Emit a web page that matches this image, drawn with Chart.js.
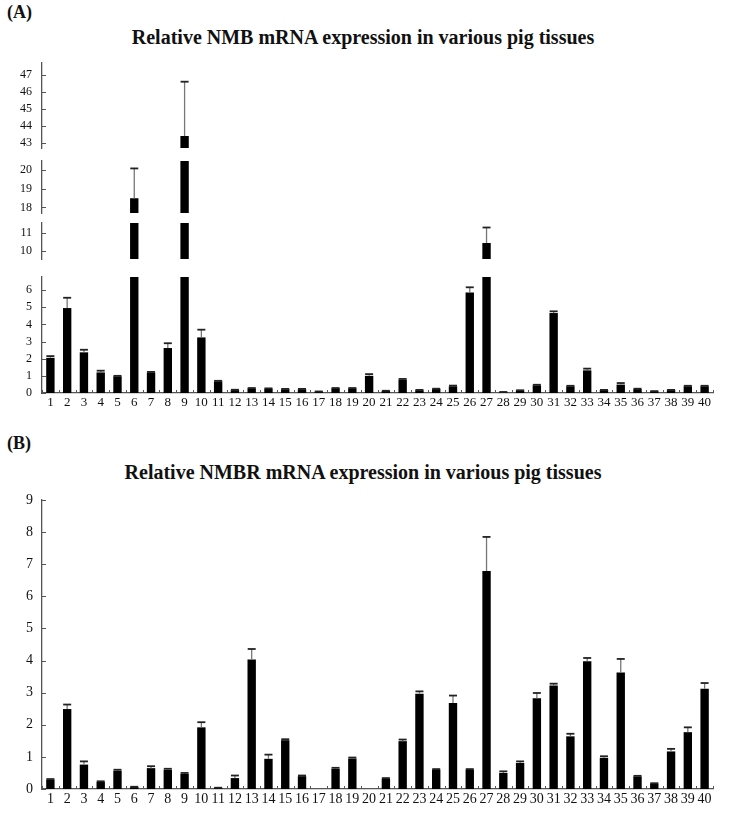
<!DOCTYPE html>
<html>
<head>
<meta charset="utf-8">
<script src="https://cdn.jsdelivr.net/npm/chart.js@4.4.0/dist/chart.umd.min.js"></script>
<style>
    html, body { margin: 0; padding: 0; background: #fff; }
    #page { position: relative; width: 736px; height: 813px; overflow: hidden; font-family: 'Liberation Serif', 'Times New Roman', serif; color: #111; }
    #page canvas { position: absolute; left: 0; }
    .panel-tag { position: absolute; left: 7px; font-weight: bold; font-size: 18px; line-height: 18px; }
    .panel-title { position: absolute; left: 0; width: 726px; text-align: center; font-weight: bold; font-size: 20px; line-height: 20px; white-space: nowrap; }
</style>
</head>
<body>
<div id="page">
    <div class="panel-tag" style="top:3px">(A)</div>
    <div class="panel-title" style="top:27px">Relative NMB mRNA expression in various pig tissues</div>
    <div class="panel-tag" style="top:434px">(B)</div>
    <div class="panel-title" style="top:462px">Relative NMBR mRNA expression in various pig tissues</div>
</div>
<script>
// tissue numbers on the x axis
const tissues = ['1', '2', '3', '4', '5', '6', '7', '8', '9', '10',
    '11', '12', '13', '14', '15', '16', '17', '18', '19', '20',
    '21', '22', '23', '24', '25', '26', '27', '28', '29', '30',
    '31', '32', '33', '34', '35', '36', '37', '38', '39', '40'];

// (A) NMB relative expression, mean and error (SD)
const nmbMean = [2.05, 4.95, 2.37, 1.2, 0.97, 18.5, 1.2, 2.62, 43.4, 3.24,
    0.68, 0.17, 0.27, 0.25, 0.22, 0.22, 0.08, 0.27, 0.27, 1.0,
    0.12, 0.78, 0.16, 0.23, 0.39, 5.86, 10.44, 0.05, 0.15, 0.45,
    4.66, 0.39, 1.32, 0.17, 0.49, 0.23, 0.1, 0.17, 0.39, 0.39];
const nmbSd = [0.1, 0.6, 0.15, 0.1, 0.03, 1.6, 0.03, 0.28, 3.2, 0.45,
    0.03, 0.02, 0.02, 0.02, 0.02, 0.02, 0.01, 0.02, 0.02, 0.1,
    0.01, 0.04, 0.02, 0.02, 0.04, 0.3, 0.86, 0.01, 0.01, 0.03,
    0.1, 0.03, 0.1, 0.01, 0.09, 0.02, 0.01, 0.01, 0.03, 0.03];

// (A) broken y axis: value range and tick labels of each piece, top to bottom
const nmbRanges = [[42.7, 47.7], [17.7, 20.5], [9.55, 11.55], [0, 6.76]];
const nmbTicks = [[43, 44, 45, 46, 47], [18, 19, 20], [10, 11], [0, 1, 2, 3, 4, 5, 6]];

// (B) NMBR relative expression, mean and error (SD)
const nmbrMean = [0.29, 2.49, 0.76, 0.22, 0.57, 0.06, 0.65, 0.6, 0.47, 1.92,
    0.03, 0.34, 4.03, 0.94, 1.52, 0.4, 0, 0.63, 0.95, 0,
    0.32, 1.49, 2.97, 0.6, 2.68, 0.6, 6.79, 0.5, 0.81, 2.83,
    3.22, 1.64, 3.98, 0.97, 3.63, 0.39, 0.17, 1.17, 1.77, 3.12];
const nmbrSd = [0.02, 0.14, 0.1, 0.02, 0.03, 0.01, 0.06, 0.03, 0.03, 0.16,
    0.01, 0.08, 0.33, 0.13, 0.03, 0.02, 0, 0.03, 0.03, 0,
    0.02, 0.05, 0.07, 0.02, 0.23, 0.02, 1.06, 0.05, 0.05, 0.16,
    0.06, 0.08, 0.1, 0.05, 0.42, 0.02, 0.01, 0.08, 0.15, 0.18];
const nmbrTicks = [0, 1, 2, 3, 4, 5, 6, 7, 8, 9];

// layout (pixels)
const AXIS_COLOR = '#555';
const PAD = 20;
const AXIS_LEFT = 42;
const PAD_RIGHT = 23;
const X_AXIS_H = 22;
const nmbAreas = [[63, 148], [161, 213], [223, 259], [277, 393]];
const nmbrArea = [500, 789];

Chart.defaults.font.family = "'Liberation Serif', 'Times New Roman', serif";
Chart.defaults.color = '#111';

const errorBarPlugin = {
    id: 'errorBars',
    afterDatasetsDraw(chart) {
        const { ctx, chartArea: a, scales: { y } } = chart;
        const ds = chart.data.datasets[0];
        const meta = chart.getDatasetMeta(0);

        ctx.save();
        ctx.beginPath();
        ctx.rect(a.left, a.top - 1, a.right - a.left, a.bottom - a.top + 1);
        ctx.clip();
        meta.data.forEach((bar, i) => {
            const sd = ds.errors[i];
            if (!sd) return;
            const yTop = y.getPixelForValue(ds.data[i]);
            const yErr = y.getPixelForValue(ds.data[i] + sd);
            ctx.strokeStyle = '#777';
            ctx.lineWidth = 1.3;
            ctx.beginPath();
            ctx.moveTo(bar.x, yTop);
            ctx.lineTo(bar.x, yErr);
            ctx.stroke();
            ctx.strokeStyle = '#222';
            ctx.lineWidth = 1.8;
            ctx.beginPath();
            ctx.moveTo(bar.x - 4, yErr);
            ctx.lineTo(bar.x + 4, yErr);
            ctx.stroke();
        });
        ctx.restore();
    }
};

// small inside tick marks on the y axis and at the category edges of the x axis
const axisTickPlugin = {
    id: 'axisTicks',
    afterDraw(chart) {
        const { ctx, chartArea: a, scales: { x, y } } = chart;
        ctx.save();
        ctx.strokeStyle = AXIS_COLOR;
        ctx.lineWidth = 1;
        ctx.beginPath();
        y.ticks.forEach(t => {
            const py = Math.round(y.getPixelForValue(t.value)) + 0.5;
            ctx.moveTo(a.left, py);
            ctx.lineTo(a.left + 4, py);
        });
        if (x.options.display) {
            for (let i = 0; i <= chart.data.labels.length; i++) {
                const px = Math.round(x.getPixelForValue(i - 0.5)) + 0.5;
                ctx.moveTo(px, a.bottom);
                ctx.lineTo(px, a.bottom - 3);
            }
        }
        ctx.stroke();
        ctx.restore();
    }
};

function addCanvas(top, height) {
    const canvas = document.createElement('canvas');
    canvas.width = 736;
    canvas.height = height;
    canvas.style.top = top + 'px';
    document.getElementById('page').appendChild(canvas);
    return canvas;
}

function buildBarChart(canvas, cfg) {
    return new Chart(canvas, {
        type: 'bar',
        data: {
            labels: tissues,
            datasets: [{
                data: cfg.values,
                errors: cfg.errors,
                backgroundColor: '#000',
                barPercentage: 0.5,
                categoryPercentage: 1
            }]
        },
        options: {
            responsive: false,
            animation: false,
            layout: { padding: { left: 0, right: PAD_RIGHT, top: PAD, bottom: cfg.padBottom } },
            plugins: { legend: { display: false }, tooltip: { enabled: false } },
            scales: {
                x: {
                    display: cfg.showX,
                    grid: { display: false, drawTicks: false },
                    border: { display: true, color: AXIS_COLOR, width: 1.3 },
                    ticks: { autoSkip: false, maxRotation: 0, padding: 2, font: { size: cfg.xFont } },
                    afterFit: s => { s.height = cfg.showX ? X_AXIS_H : 0; }
                },
                y: {
                    min: cfg.min,
                    max: cfg.max,
                    grid: { display: false, drawTicks: false },
                    border: { display: true, color: AXIS_COLOR, width: 1.3 },
                    ticks: { autoSkip: false, padding: cfg.yPad, font: { size: cfg.yFont } },
                    afterBuildTicks: s => { s.ticks = cfg.ticks.map(v => ({ value: v })); },
                    afterFit: s => { s.width = AXIS_LEFT; }
                }
            }
        },
        plugins: [errorBarPlugin, axisTickPlugin]
    });
}

// (A) one chart per piece of the broken axis
nmbAreas.forEach(([top, bottom], i) => {
    const last = i === nmbAreas.length - 1;
    const padBottom = last ? 4 : PAD;
    const height = PAD + (bottom - top) + (last ? X_AXIS_H : 0) + padBottom;
    buildBarChart(addCanvas(top - PAD, height), {
        values: nmbMean,
        errors: nmbSd,
        min: nmbRanges[i][0],
        max: nmbRanges[i][1],
        ticks: nmbTicks[i],
        showX: last,
        padBottom: padBottom,
        xFont: 13,
        yFont: 12,
        yPad: 10
    });
});

// (B)
buildBarChart(addCanvas(nmbrArea[0] - PAD, PAD + (nmbrArea[1] - nmbrArea[0]) + X_AXIS_H + 2), {
    values: nmbrMean,
    errors: nmbrSd,
    min: 0,
    max: 9,
    ticks: nmbrTicks,
    showX: true,
    padBottom: 2,
    xFont: 14,
    yFont: 14,
    yPad: 9
});
</script>
</body>
</html>
